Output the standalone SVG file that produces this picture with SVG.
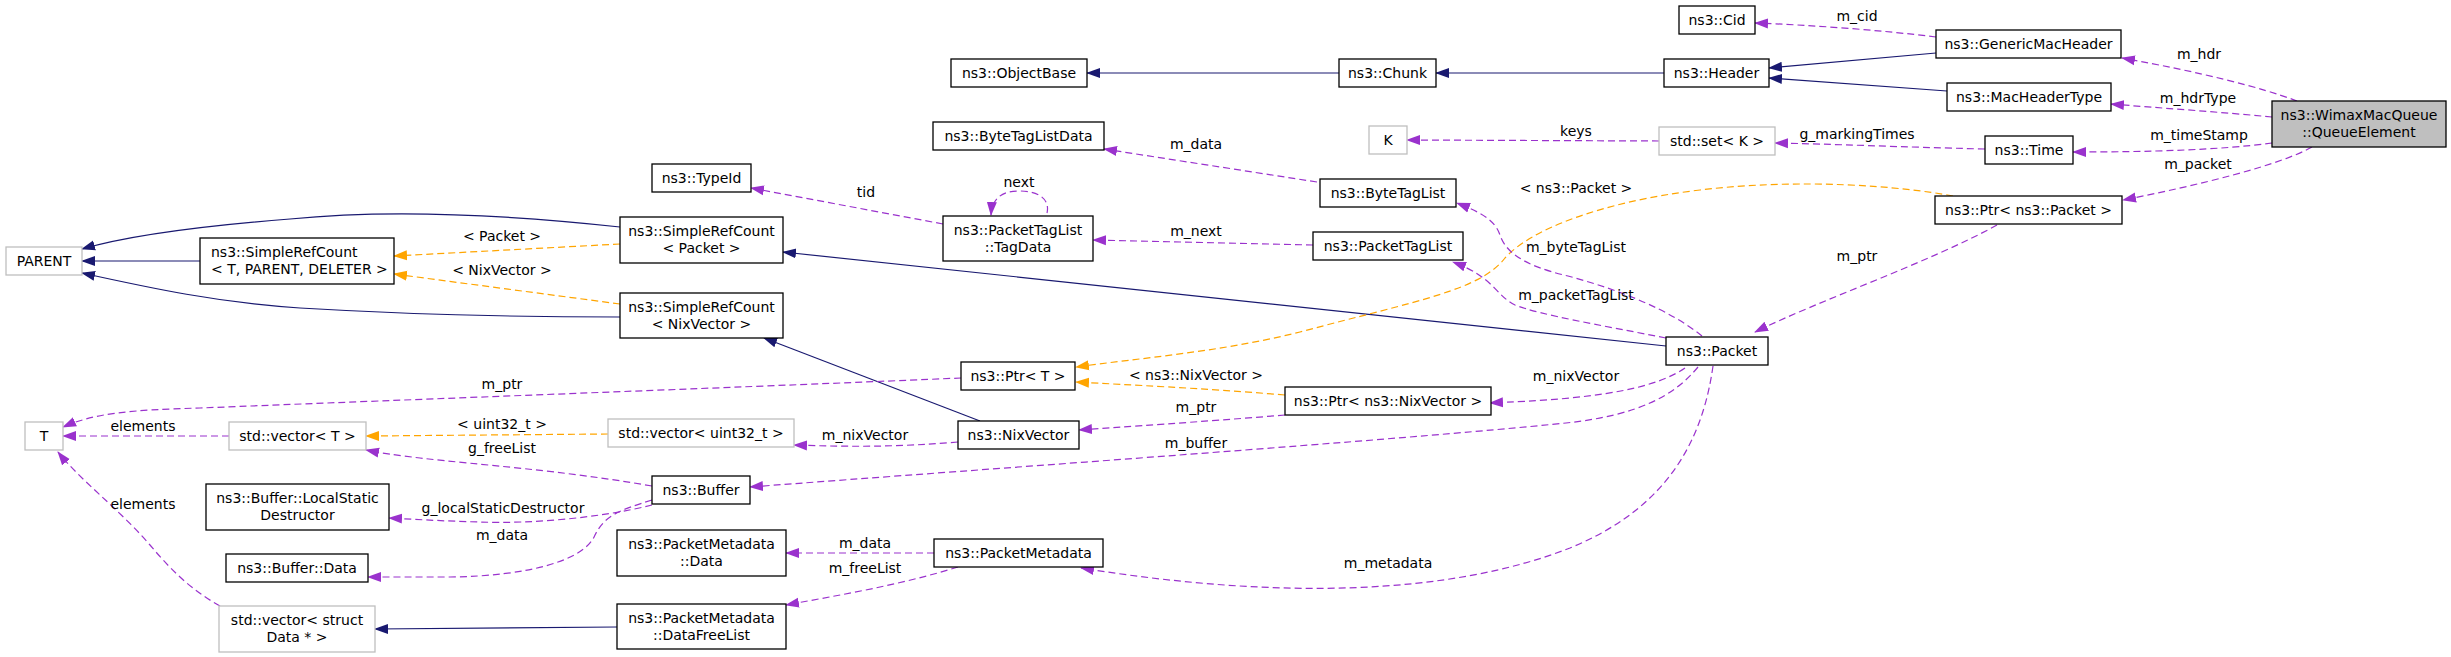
<svg xmlns="http://www.w3.org/2000/svg" width="2451" height="657" viewBox="0 0 2451 657">
<style>
text{font-family:"DejaVu Sans","Liberation Sans",sans-serif;font-size:14px;fill:#000}
.n rect{fill:#fff;stroke:#000;stroke-width:1.3}
.g rect{fill:#fff;stroke:#bfbfbf;stroke-width:1.3}
.c text{text-anchor:middle}
.inh{fill:none;stroke:#191970;stroke-width:1.2;marker-end:url(#ab)}
.use{fill:none;stroke:#9a32cd;stroke-width:1.2;stroke-dasharray:7,4;marker-end:url(#ap)}
.tpl{fill:none;stroke:#ffa500;stroke-width:1.2;stroke-dasharray:7,4;marker-end:url(#ao)}
.lbl{text-anchor:middle}
</style>
<defs>
<marker id="ab" markerUnits="userSpaceOnUse" markerWidth="14" markerHeight="12" viewBox="0 0 14 12" refX="13" refY="6" orient="auto"><path d="M0,1 L14,6 L0,11 z" fill="#191970"/></marker>
<marker id="ap" markerUnits="userSpaceOnUse" markerWidth="14" markerHeight="12" viewBox="0 0 14 12" refX="13" refY="6" orient="auto"><path d="M0,1 L14,6 L0,11 z" fill="#9a32cd"/></marker>
<marker id="ao" markerUnits="userSpaceOnUse" markerWidth="14" markerHeight="12" viewBox="0 0 14 12" refX="13" refY="6" orient="auto"><path d="M0,1 L14,6 L0,11 z" fill="#ffa500"/></marker>
</defs>
<rect width="2451" height="657" fill="#fff"/>
<g id="connectors">
<path class="inh" d="M1339,73 L1087,73"/>
<path class="inh" d="M1664,73 L1436,73"/>
<path class="inh" d="M1936,53 L1769,68"/>
<path class="inh" d="M1947,91 L1769,78"/>
<path class="inh" d="M620,227 C500,214 390,209 290,219 C200,226 130,235 82,249"/>
<path class="inh" d="M200,261 L82,261"/>
<path class="inh" d="M620,317 C520,317 400,314 300,308 C220,303 150,288 82,273"/>
<path class="inh" d="M1666,346 L783,252"/>
<path class="inh" d="M980,421 L764,338"/>
<path class="inh" d="M617,627 L375,629"/>
<path class="tpl" d="M620,244 L394,256"/>
<path class="tpl" d="M620,304 L394,274"/>
<path class="tpl" d="M1953,196 C1900,186 1800,178 1700,190 C1600,202 1530,230 1505,258 C1480,290 1420,300 1300,332 C1220,352 1140,358 1076,367"/>
<path class="tpl" d="M1285,395 C1200,388 1130,385 1076,382"/>
<path class="tpl" d="M608,434 L366,436"/>
<path class="use" d="M1936,37 C1880,30 1810,25 1755,23"/>
<path class="use" d="M2297,101 C2260,87 2200,72 2122,58"/>
<path class="use" d="M2272,117 C2220,112 2160,108 2111,104"/>
<path class="use" d="M2272,143 C2220,150 2150,152 2073,152"/>
<path class="use" d="M2312,147 C2280,165 2200,185 2123,200"/>
<path class="use" d="M1985,149 C1900,147 1830,144 1775,143"/>
<path class="use" d="M1659,141 L1407,140"/>
<path class="use" d="M1997,225 C1930,262 1820,300 1755,332"/>
<path class="use" d="M1702,336 C1670,310 1620,290 1568,276 C1520,265 1505,250 1500,235 C1495,220 1480,212 1457,203"/>
<path class="use" d="M1666,338 C1600,325 1540,315 1515,305 C1495,295 1495,278 1453,262"/>
<path class="use" d="M1317,182 L1104,149"/>
<path class="use" d="M1313,245 L1093,240"/>
<path class="use" d="M943,224 L751,188"/>
<path class="use" d="M1047,213 C1050,200 1040,191 1019,191 C1000,191 992,200 991,215"/>
<path class="use" d="M1685,368 C1660,385 1620,393 1570,398 C1540,401 1510,402 1490,403"/>
<path class="use" d="M1285,415 C1200,422 1120,427 1079,430"/>
<path class="use" d="M958,442 C900,447 850,447 794,445"/>
<path class="use" d="M1698,367 C1675,395 1640,415 1566,423 C1400,440 1000,468 750,487"/>
<path class="use" d="M961,378 C800,385 400,400 200,408 C130,410 95,413 63,427"/>
<path class="use" d="M229,436 L63,436"/>
<path class="use" d="M652,486 C560,470 480,465 420,458 C395,455 380,453 366,450"/>
<path class="use" d="M652,505 C600,518 530,524 480,522 C440,521 410,519 389,518"/>
<path class="use" d="M652,500 C620,510 605,515 595,535 C585,560 530,576 450,577 C420,577 390,577 368,577"/>
<path class="use" d="M220,606 C195,592 175,575 150,545 C120,510 80,480 58,452"/>
<path class="use" d="M934,553 L786,553"/>
<path class="use" d="M958,567 C900,585 840,595 786,605"/>
<path class="use" d="M1713,366 C1700,460 1650,515 1570,548 C1450,595 1280,600 1081,568"/>
<text class="lbl" x="502" y="241">&lt; Packet &gt;</text>
<text class="lbl" x="502" y="275">&lt; NixVector &gt;</text>
<text class="lbl" x="1196" y="149">m_data</text>
<text class="lbl" x="1576" y="136">keys</text>
<text class="lbl" x="1019" y="187">next</text>
<text class="lbl" x="866" y="197">tid</text>
<text class="lbl" x="1196" y="236">m_next</text>
<text class="lbl" x="1576" y="193">&lt; ns3::Packet &gt;</text>
<text class="lbl" x="1576" y="252">m_byteTagList</text>
<text class="lbl" x="1576" y="300">m_packetTagList</text>
<text class="lbl" x="1857" y="21">m_cid</text>
<text class="lbl" x="2199" y="59">m_hdr</text>
<text class="lbl" x="2198" y="103">m_hdrType</text>
<text class="lbl" x="1857" y="139">g_markingTimes</text>
<text class="lbl" x="2199" y="140">m_timeStamp</text>
<text class="lbl" x="2198" y="169">m_packet</text>
<text class="lbl" x="1857" y="261">m_ptr</text>
<text class="lbl" x="502" y="389">m_ptr</text>
<text class="lbl" x="143" y="431">elements</text>
<text class="lbl" x="502" y="429">&lt; uint32_t &gt;</text>
<text class="lbl" x="502" y="453">g_freeList</text>
<text class="lbl" x="143" y="509">elements</text>
<text class="lbl" x="503" y="513">g_localStaticDestructor</text>
<text class="lbl" x="502" y="540">m_data</text>
<text class="lbl" x="1196" y="380">&lt; ns3::NixVector &gt;</text>
<text class="lbl" x="1196" y="412">m_ptr</text>
<text class="lbl" x="865" y="440">m_nixVector</text>
<text class="lbl" x="1196" y="448">m_buffer</text>
<text class="lbl" x="1576" y="381">m_nixVector</text>
<text class="lbl" x="865" y="548">m_data</text>
<text class="lbl" x="865" y="573">m_freeList</text>
<text class="lbl" x="1388" y="568">m_metadata</text>
</g>
<g id="QueueElement" class="c"><rect x="2272" y="101" width="174" height="46" fill="#bfbfbf" stroke="#000" stroke-width="1.3"/><text x="2359" y="120">ns3::WimaxMacQueue</text><text x="2359" y="137">::QueueElement</text></g>
<g id="GenericMacHeader" class="n c"><rect x="1936" y="30" width="185" height="28"/><text x="2028.5" y="49">ns3::GenericMacHeader</text></g>
<g id="Cid" class="n c"><rect x="1679" y="6" width="76" height="28"/><text x="1717" y="25">ns3::Cid</text></g>
<g id="Header" class="n c"><rect x="1664" y="59" width="105" height="28"/><text x="1716.5" y="78">ns3::Header</text></g>
<g id="MacHeaderType" class="n c"><rect x="1947" y="83" width="164" height="28"/><text x="2029" y="102">ns3::MacHeaderType</text></g>
<g id="Chunk" class="n c"><rect x="1339" y="59" width="97" height="28"/><text x="1387.5" y="78">ns3::Chunk</text></g>
<g id="ObjectBase" class="n c"><rect x="951" y="59" width="136" height="28"/><text x="1019" y="78">ns3::ObjectBase</text></g>
<g id="Time" class="n c"><rect x="1985" y="136" width="88" height="28"/><text x="2029" y="155">ns3::Time</text></g>
<g id="SetK" class="g c"><rect x="1659" y="127" width="116" height="28"/><text x="1717" y="146">std::set&lt; K &gt;</text></g>
<g id="K" class="g c"><rect x="1369" y="126" width="38" height="28"/><text x="1388" y="145">K</text></g>
<g id="PtrPacket" class="n c"><rect x="1935" y="196" width="187" height="28"/><text x="2028.5" y="215">ns3::Ptr&lt; ns3::Packet &gt;</text></g>
<g id="Packet" class="n c"><rect x="1666" y="337" width="102" height="28"/><text x="1717" y="356">ns3::Packet</text></g>
<g id="ByteTagList" class="n c"><rect x="1320" y="179" width="136" height="28"/><text x="1388" y="198">ns3::ByteTagList</text></g>
<g id="ByteTagListData" class="n c"><rect x="933" y="122" width="171" height="28"/><text x="1018.5" y="141">ns3::ByteTagListData</text></g>
<g id="PacketTagList" class="n c"><rect x="1313" y="232" width="150" height="28"/><text x="1388" y="251">ns3::PacketTagList</text></g>
<g id="TagData" class="n c"><rect x="943" y="216" width="150" height="45"/><text x="1018" y="235">ns3::PacketTagList</text><text x="1018" y="252">::TagData</text></g>
<g id="TypeId" class="n c"><rect x="652" y="164" width="99" height="28"/><text x="701.5" y="183">ns3::TypeId</text></g>
<g id="SRCPacket" class="n c"><rect x="620" y="217" width="163" height="46"/><text x="701.5" y="236">ns3::SimpleRefCount</text><text x="701.5" y="253">&lt; Packet &gt;</text></g>
<g id="SRCNixVector" class="n c"><rect x="620" y="293" width="163" height="45"/><text x="701.5" y="312">ns3::SimpleRefCount</text><text x="701.5" y="329">&lt; NixVector &gt;</text></g>
<g id="SRCT" class="n"><rect x="200" y="238" width="194" height="46"/><text x="211" y="257">ns3::SimpleRefCount</text><text x="211" y="274">&lt; T, PARENT, DELETER &gt;</text></g>
<g id="PARENT" class="g c"><rect x="6" y="247" width="76" height="28"/><text x="44" y="266">PARENT</text></g>
<g id="PtrT" class="n c"><rect x="961" y="362" width="114" height="28"/><text x="1018" y="381">ns3::Ptr&lt; T &gt;</text></g>
<g id="PtrNixVector" class="n c"><rect x="1285" y="387" width="206" height="28"/><text x="1388" y="406">ns3::Ptr&lt; ns3::NixVector &gt;</text></g>
<g id="NixVector" class="n c"><rect x="958" y="421" width="121" height="28"/><text x="1018.5" y="440">ns3::NixVector</text></g>
<g id="VecUint32" class="g c"><rect x="608" y="419" width="186" height="28"/><text x="701" y="438">std::vector&lt; uint32_t &gt;</text></g>
<g id="VecT" class="g c"><rect x="229" y="422" width="137" height="28"/><text x="297.5" y="441">std::vector&lt; T &gt;</text></g>
<g id="T" class="g c"><rect x="25" y="422" width="38" height="28"/><text x="44" y="441">T</text></g>
<g id="Buffer" class="n c"><rect x="652" y="476" width="98" height="28"/><text x="701" y="495">ns3::Buffer</text></g>
<g id="LocalStaticDestructor" class="n c"><rect x="206" y="484" width="183" height="46"/><text x="297.5" y="503">ns3::Buffer::LocalStatic</text><text x="297.5" y="520">Destructor</text></g>
<g id="BufferData" class="n c"><rect x="226" y="554" width="142" height="28"/><text x="297" y="573">ns3::Buffer::Data</text></g>
<g id="PMData" class="n c"><rect x="617" y="530" width="169" height="46"/><text x="701.5" y="549">ns3::PacketMetadata</text><text x="701.5" y="566">::Data</text></g>
<g id="PacketMetadata" class="n c"><rect x="934" y="539" width="169" height="28"/><text x="1018.5" y="558">ns3::PacketMetadata</text></g>
<g id="DataFreeList" class="n c"><rect x="617" y="604" width="169" height="45"/><text x="701.5" y="623">ns3::PacketMetadata</text><text x="701.5" y="640">::DataFreeList</text></g>
<g id="VecData" class="g c"><rect x="219" y="606" width="156" height="46"/><text x="297" y="625">std::vector&lt; struct</text><text x="297" y="642">Data * &gt;</text></g>
</svg>
